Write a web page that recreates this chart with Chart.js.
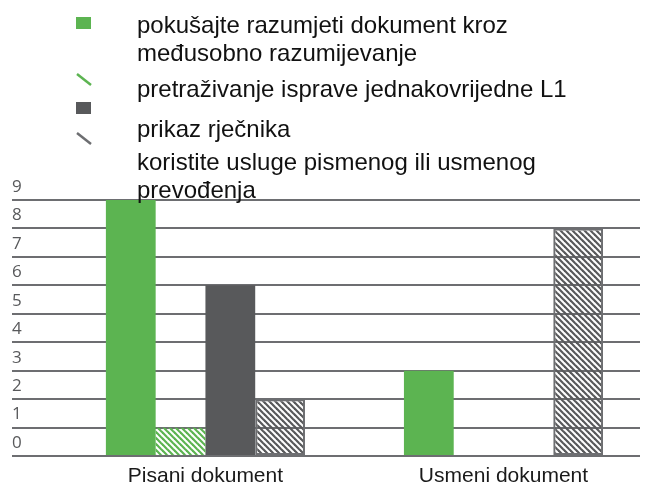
<!DOCTYPE html>
<html>
<head>
<meta charset="utf-8">
<script src="https://cdn.jsdelivr.net/npm/chart.js@4.4.1/dist/chart.umd.min.js"></script>
<style>
  body { margin: 0; background: #fff; }
  #wrap { position: relative; width: 648px; height: 497px; }
  #chart { position: absolute; left: 0; top: 0; }
  #legend {
    position: absolute; left: 0; top: 0; z-index: 2;
    font-family: "Liberation Sans", Arial, sans-serif;
    font-size: 24px; line-height: 28px; color: #111;
  }
  #legend .mark { position: absolute; left: 76px; line-height: 0; }
  #legend .mark svg { display: block; }
  #legend .text { position: absolute; left: 137px; white-space: nowrap; }
</style>
</head>
<body>
<div id="wrap">
  <canvas id="chart" width="648" height="497"></canvas>
  <div id="legend"></div>
</div>
<script>
const categories = ['Pisani dokument', 'Usmeni dokument'];
const seriesNames = [
  ['pokušajte razumjeti dokument kroz', 'međusobno razumijevanje'],
  ['pretraživanje isprave jednakovrijedne L1'],
  ['prikaz rječnika'],
  ['koristite usluge pismenog ili usmenog', 'prevođenja']
];
const understandValues = [9, 3];
const searchValues = [1, 0];
const dictionaryValues = [6, 0];
const translateValues = [2, 8];

const GREEN = '#5cb451';
const DARK = '#58595b';
const LINE = '#6d6e71';

// diagonal "\" stripes on a transparent tile, so grid lines show through
function hatch(color) {
  const s = 6;
  const c = document.createElement('canvas');
  c.width = s; c.height = s;
  const g = c.getContext('2d');
  g.strokeStyle = color;
  g.lineWidth = 2.2;
  for (let k = -1; k <= 1; k++) {
    g.beginPath();
    g.moveTo(-1, -1 + k * s);
    g.lineTo(s + 1, s + 1 + k * s);
    g.stroke();
  }
  return g.createPattern(c, 'repeat');
}

const toPoints = vals => vals.map((v, i) => ({ x: i, y: v }));

const datasets = [
  { label: seriesNames[0], data: toPoints(understandValues), backgroundColor: GREEN, mark: 'box', markColor: GREEN },
  { label: seriesNames[1], data: toPoints(searchValues), backgroundColor: hatch(GREEN), mark: 'slash', markColor: GREEN },
  { label: seriesNames[2], data: toPoints(dictionaryValues), backgroundColor: DARK, mark: 'box', markColor: DARK },
  { label: seriesNames[3], data: toPoints(translateValues), backgroundColor: hatch(DARK),
    borderColor: LINE, borderWidth: 2, borderSkipped: false, mark: 'slash', markColor: LINE }
];

const chart = new Chart(document.getElementById('chart'), {
  type: 'bar',
  data: { datasets },
  options: {
    responsive: false,
    animation: false,
    categoryPercentage: 0.668,
    barPercentage: 1,
    layout: { padding: { left: 12, right: 8, top: 200, bottom: 0 } },
    plugins: { legend: { display: false }, tooltip: { enabled: false } },
    scales: {
      x: {
        type: 'linear',
        offset: false,
        min: -0.649,
        max: 1.458,
        grid: { display: false, drawTicks: false },
        border: { display: false },
        afterBuildTicks: axis => { axis.ticks = categories.map((_, i) => ({ value: i })); },
        ticks: {
          callback: v => categories[v],
          autoSkip: false,
          maxRotation: 0,
          padding: 11,
          color: '#1a1a1a',
          font: { family: 'Liberation Sans', size: 21, lineHeight: 0.9 }
        }
      },
      y: {
        min: 0,
        max: 9,
        border: { display: false },
        grid: { color: LINE, lineWidth: 2, drawTicks: false },
        ticks: {
          stepSize: 1,
          mirror: true,
          padding: 0,
          labelOffset: -13,
          color: DARK,
          font: { family: 'Open Sans', size: 17 }
        }
      }
    }
  }
});

// legend built from the chart's own datasets
const legendRows = [
  { markTop: 17, textTop: 11 },
  { markTop: 73, textTop: 75 },
  { markTop: 102, textTop: 115 },
  { markTop: 132, textTop: 148 }
];
const legend = document.getElementById('legend');
chart.data.datasets.forEach((ds, i) => {
  const row = legendRows[i];
  const mark = document.createElement('div');
  mark.className = 'mark';
  mark.style.top = row.markTop + 'px';
  if (ds.mark === 'box') {
    mark.style.width = '15px';
    mark.style.height = '12px';
    mark.style.background = ds.markColor;
  } else {
    mark.innerHTML = '<svg width="16" height="13"><line x1="1" y1="1" x2="15" y2="12" stroke="' +
      ds.markColor + '" stroke-width="2.5"/></svg>';
  }
  const text = document.createElement('div');
  text.className = 'text';
  text.style.top = row.textTop + 'px';
  text.innerHTML = ds.label.join('<br>');
  legend.appendChild(mark);
  legend.appendChild(text);
});
</script>
</body>
</html>
